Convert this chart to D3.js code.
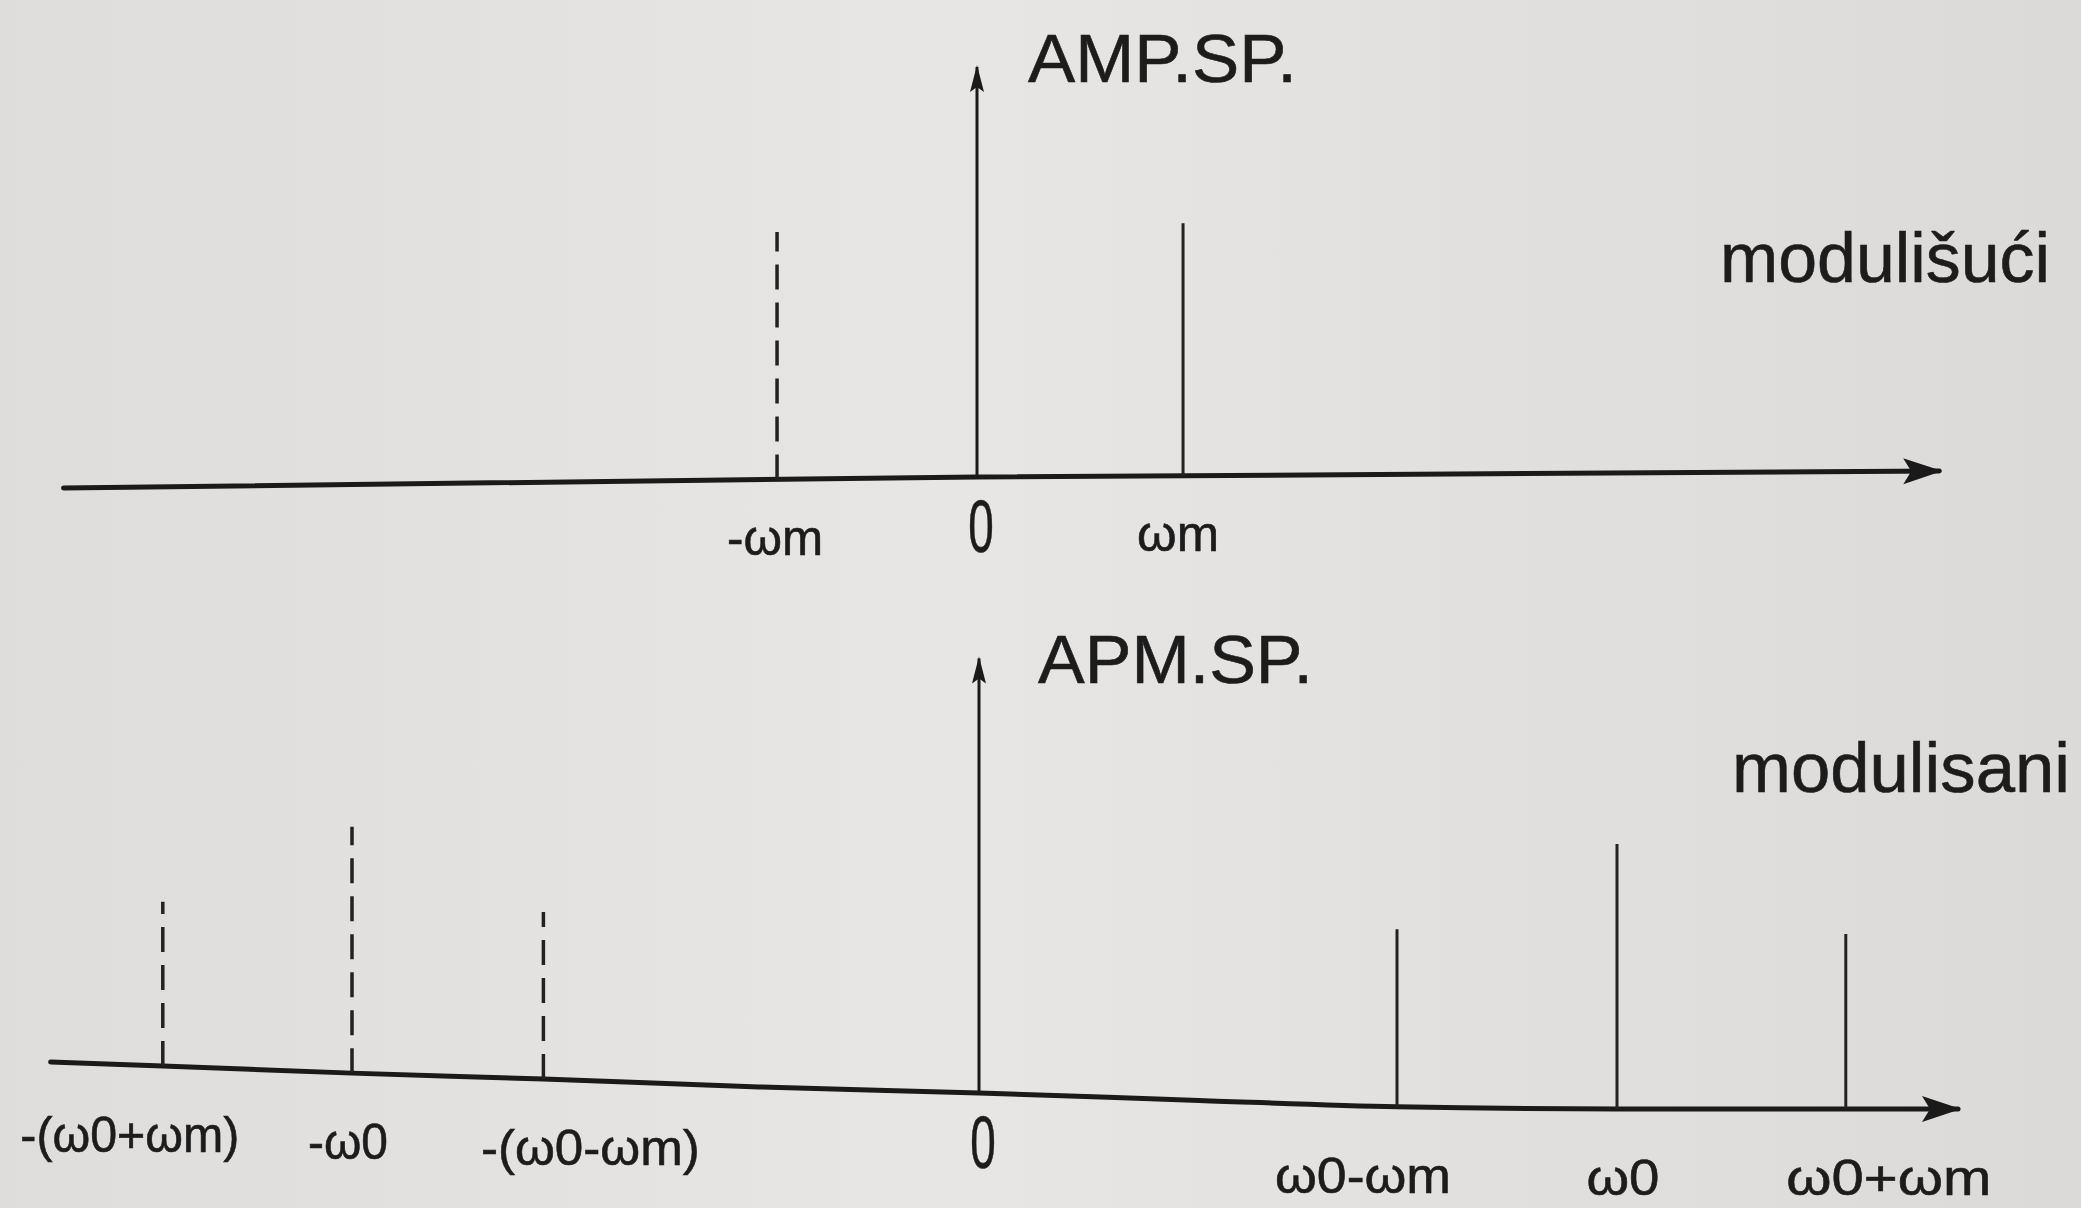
<!DOCTYPE html>
<html>
<head>
<meta charset="utf-8">
<script src="https://cdn.jsdelivr.net/npm/d3@7"></script>
<style>
  body { margin: 0; background: #e5e3e2; }
  svg { display: block; }
  text { font-family: "Liberation Sans", Arial, sans-serif; fill: #1c1c1c; stroke: #1c1c1c; stroke-width: 0.6; }
</style>
</head>
<body>
<svg id="canvas" width="2081" height="1208"></svg>
<script>
// Top spectrum (modulating signal), frequencies in units of wm
let topFreqs = [-0.985, 1.015];
let topAmps = [0.99, 1.01];
let topLabels = ["-ωm", "ωm"];
// the paper is a little tilted: baseline level along the axis
let topSagFreqs = [-4.50, 0, 4.74];
let topSagLevels = [-0.044, 0, 0.024];

// Bottom spectrum (modulated signal)
let bottomFreqs = [-3.71, -2.85, -1.98, 1.90, 2.90, 3.94];
let bottomAmps = [0.62, 0.93, 0.63, 0.67, 1.0, 0.66];
let bottomLabels = ["-(ω0+ωm)", "-ω0", "-(ω0-ωm)", "ω0-ωm", "ω0", "ω0+ωm"];
let bottomSagFreqs = [-4.22, -3.71, -2.85, -1.98, -1.0, 0, 1.0, 1.90, 2.90, 3.94, 4.45];
let bottomSagLevels = [0.117, 0.102, 0.075, 0.053, 0.023, 0, -0.028, -0.052, -0.06, -0.06, -0.06];

let width = 2081;
let height = 1208;

let panels = [
    {
        freqs: topFreqs, amps: topAmps, labels: topLabels,
        sagFreqs: topSagFreqs, sagLevels: topSagLevels,
        axisTop: 1.64, title: "AMP.SP.", side: "modulišući",
        x0: 977, unit: 203, y0: 477, ampPx: 250,
        labelDy: 62, labelSize: 50, nudges: [-2, -5], labelLens: [96, 82],
        titleDx: 51, titleDy: 15, titleLen: 269,
        sideX: 1720, sideY: 282, sideLen: 330
    },
    {
        freqs: bottomFreqs, amps: bottomAmps, labels: bottomLabels,
        sagFreqs: bottomSagFreqs, sagLevels: bottomSagLevels,
        axisTop: 1.64, title: "APM.SP.", side: "modulisani",
        x0: 979, unit: 220, y0: 1093, ampPx: 265,
        labelDy: 73, labelSize: 50, nudges: [-33, -4, 47, -34, 6, 43],
        labelLens: [219, 80, 219, 176, 73, 205],
        titleDx: 59, titleDy: 25, titleLen: 275,
        sideX: 1732, sideY: 792, sideLen: 338
    }
];

let svg = d3.select("#canvas");

// paper background, slightly darker toward the edges like the photo
let defs = svg.append("defs");
let grad = defs.append("linearGradient").attr("id", "paper")
    .attr("x1", "0%").attr("x2", "100%");
grad.append("stop").attr("offset", "0%").attr("stop-color", "#dfdddc");
grad.append("stop").attr("offset", "45%").attr("stop-color", "#e8e6e5");
grad.append("stop").attr("offset", "100%").attr("stop-color", "#dcdad9");

svg.append("rect")
    .attr("width", width)
    .attr("height", height)
    .attr("fill", "url(#paper)");

// arrowheads
defs.append("marker")
    .attr("id", "bigArrow")
    .attr("markerUnits", "userSpaceOnUse")
    .attr("markerWidth", 46).attr("markerHeight", 34)
    .attr("viewBox", "-42 -17 46 34")
    .attr("refX", 0).attr("refY", 0)
    .attr("orient", "auto")
    .append("path")
    .attr("d", "M3,0 L-36,-13 L-28,0 L-36,13 Z")
    .attr("fill", "#1a1a1a");

defs.append("marker")
    .attr("id", "smallArrow")
    .attr("markerUnits", "userSpaceOnUse")
    .attr("markerWidth", 30).attr("markerHeight", 20)
    .attr("viewBox", "-28 -10 30 20")
    .attr("refX", 0).attr("refY", 0)
    .attr("orient", "auto")
    .append("path")
    .attr("d", "M2,0 L-25,-7 L-20,0 L-25,7 Z")
    .attr("fill", "#1a1a1a");

let drawPanel = function (p) {
    let g = svg.append("g");

    let x = d3.scaleLinear()
        .domain([0, 1])
        .range([p.x0, p.x0 + p.unit]);

    let y = d3.scaleLinear()
        .domain([0, 1])
        .range([p.y0, p.y0 - p.ampPx]);

    // baseline level at any frequency (piecewise linear through the sag points)
    let base = d3.scaleLinear()
        .domain(p.sagFreqs)
        .range(p.sagLevels)
        .clamp(true);

    // horizontal frequency axis
    let axisLine = d3.line()
        .x(function (d, i) { return x(d); })
        .y(function (d, i) { return y(p.sagLevels[i]); })
        .curve(d3.curveMonotoneX);

    g.append("path")
        .attr("d", axisLine(p.sagFreqs))
        .attr("fill", "none")
        .attr("stroke", "#1a1a1a")
        .attr("stroke-width", 5)
        .attr("stroke-linecap", "round")
        .attr("marker-end", "url(#bigArrow)");

    // vertical amplitude axis
    g.append("line")
        .attr("x1", x(0)).attr("x2", x(0))
        .attr("y1", y(base(0))).attr("y2", y(p.axisTop))
        .attr("stroke", "#1a1a1a")
        .attr("stroke-width", 3)
        .attr("marker-end", "url(#smallArrow)");

    // spectral lines: negative frequencies dashed
    g.selectAll(null)
        .data(p.freqs)
        .enter()
        .append("line")
        .attr("x1", function (d) { return x(d); })
        .attr("x2", function (d) { return x(d); })
        .attr("y1", function (d) { return y(base(d)); })
        .attr("y2", function (d, i) { return y(base(d) + p.amps[i]); })
        .attr("stroke", "#222")
        .attr("stroke-width", function (d) { return d < 0 ? 3.5 : 3; })
        .attr("stroke-dasharray", function (d) { return d < 0 ? "25,13" : null; });

    // frequency labels
    g.selectAll(null)
        .data(p.freqs)
        .enter()
        .append("text")
        .attr("x", function (d, i) { return x(d) + p.nudges[i]; })
        .attr("y", function (d) { return y(base(d)) + p.labelDy; })
        .attr("text-anchor", "middle")
        .attr("dominant-baseline", "middle")
        .attr("font-size", p.labelSize)
        .attr("textLength", function (d, i) { return p.labelLens[i]; })
        .attr("lengthAdjust", "spacingAndGlyphs")
        .text(function (d, i) { return p.labels[i]; });

    // tall narrow zero under the vertical axis
    g.append("text")
        .attr("transform", "translate(" + (x(0) + 4) + "," + (y(0) + 55) + ") scale(0.62,1)")
        .attr("text-anchor", "middle")
        .attr("dominant-baseline", "middle")
        .attr("font-size", 74)
        .text("0");

    // axis title
    g.append("text")
        .attr("x", x(0) + p.titleDx)
        .attr("y", y(p.axisTop) + p.titleDy)
        .attr("font-size", 68)
        .attr("textLength", p.titleLen)
        .attr("lengthAdjust", "spacingAndGlyphs")
        .text(p.title);

    // signal name on the right
    g.append("text")
        .attr("x", p.sideX)
        .attr("y", p.sideY)
        .attr("font-size", 70)
        .attr("textLength", p.sideLen)
        .attr("lengthAdjust", "spacingAndGlyphs")
        .text(p.side);
}

panels.forEach(drawPanel);
</script>
</body>
</html>
